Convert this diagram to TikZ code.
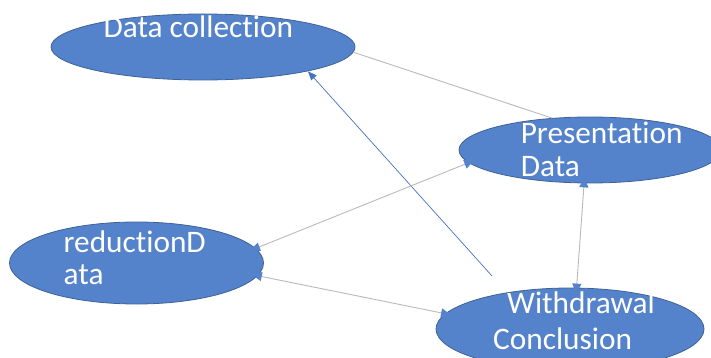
\documentclass[tikz,border=0pt]{standalone}
\usepackage{fontspec}
\setmainfont{Carlito}[Ligatures=CommonOff]
\usetikzlibrary{arrows.meta,shapes.geometric}
\definecolor{blobfill}{RGB}{84,131,204}
\definecolor{blobline}{RGB}{62,98,150}
\definecolor{linkgray}{RGB}{185,185,185}
\definecolor{linkblue}{RGB}{68,114,196}

\begin{document}
\begin{tikzpicture}[x=1pt,y=-1pt]
\tikzset{blob/.style={ellipse,draw=blobline,fill=blobfill,line width=0.8pt,inner sep=0pt}}
\tikzset{lbl/.style={anchor=base west,inner sep=0pt,text=white,font=\fontsize{31.3}{33}\selectfont}}
\tikzset{stagetip/.tip={Triangle[length=10pt,width=9pt,color=blobfill]}}
\tikzset{grayline/.style={draw=linkgray,line width=0.9pt,stagetip-stagetip,shorten <=-6pt,shorten >=-6pt}}
\useasboundingbox (0,0) rectangle (711,358);
\clip (0,0) rectangle (711,358);
% the four stages
\node[blob,minimum width=304pt,minimum height=66pt] (dc) at (203,47) {};
\node[blob,minimum width=262pt,minimum height=66pt] (pd) at (590,150) {};
\node[blob,minimum width=254pt,minimum height=82pt] (rd) at (136.5,263) {};
\node[blob,minimum width=268pt,minimum height=82pt] (wc) at (570,329) {};
\node[lbl] (dctext) at (103.4,37.3) {Data collection};
\node[lbl] (pdtext) at (520.6,144) {Presentation};
\node[lbl] (pdtext2) at (520.6,176) {Data};
\node[lbl] (rdtext) at (63.5,252) {reductionD};
\node[lbl] (rdtext2) at (63.5,284) {ata};
\node[lbl] (wctext) at (507,313) {Withdrawal};
\node[lbl] (wctext2) at (493,349) {Conclusion};
% connectors
\draw[draw=linkgray,line width=0.9pt] (dc.-2) -- (pd.140);
\coordinate (bluefree) at (492,276);
\draw[draw=linkblue,line width=0.7pt,-{Triangle[length=9pt,width=7pt,color=linkblue]}] (bluefree) -- (dc.-13);
\draw[grayline] (pd.186) -- (rd.7);
\draw[grayline] (rd.-6) -- (wc.173);
\draw[grayline] (pd.-100) -- (wc.81);
\end{tikzpicture}
\end{document}
